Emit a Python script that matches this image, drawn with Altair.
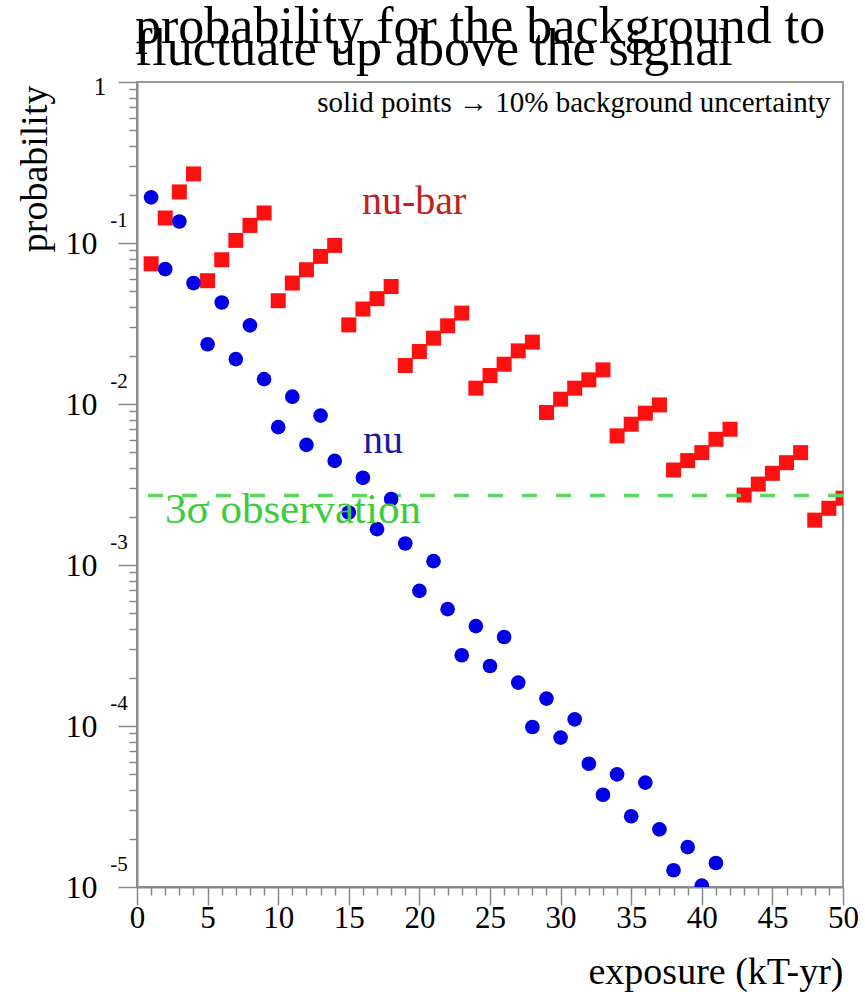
import altair as alt
import pandas as pd

# ---------------- data ----------------
exposure_nu = list(range(1, 42))
prob_nu = [0.192, 0.0689, 0.136, 0.0564, 0.0235, 0.0427, 0.019, 0.0308, 0.01427, 0.00718,
           0.0111, 0.00557, 0.00847, 0.00443, 0.00212, 0.00348, 0.00167, 0.00257, 0.00136, 0.000691,
           0.001056, 0.000532, 0.000275, 0.000417, 0.000236, 0.000357, 0.000186, 0.0000986, 0.000148, 0.0000847,
           0.00011, 0.0000583, 0.0000374, 0.0000501, 0.0000275, 0.0000445, 0.0000228, 0.0000127, 0.0000177, 0.0000102,
           0.0000141]

exposure_nubar = list(range(1, 51))
prob_nubar = [0.0743, 0.143, 0.2076, 0.2686,
              0.0583, 0.0787, 0.1038, 0.1286, 0.1537,
              0.0438, 0.0564, 0.0682, 0.0826, 0.0966,
              0.031, 0.0389, 0.0451, 0.0537,
              0.01734, 0.0212, 0.02564, 0.0306, 0.0367,
              0.01254, 0.01503, 0.01767, 0.02138, 0.02423,
              0.00885, 0.01071, 0.01254, 0.01413, 0.0163,
              0.00634, 0.00749, 0.00877, 0.00987,
              0.00389, 0.00445, 0.00499, 0.00604, 0.00697,
              0.00272, 0.00318, 0.00371, 0.00432, 0.00499,
              0.0019, 0.00225, 0.0026]

three_sigma = [0.0027]

title_lines = ["probability for the background to", "fluctuate up above the signal"]
x_title = "exposure (kT-yr)"
y_title = "probability"
note_text = ["solid points \u2192 10% background uncertainty"]
note_x, note_y = [49.1], [0.65]
label_nubar = ["nu-bar"]
label_nubar_x, label_nubar_y = [15.93], [0.152]
label_nu = ["nu"]
label_nu_x, label_nu_y = [16.0], [0.00496]
label_sigma = ["3\u03c3 observation"]
label_sigma_x, label_sigma_y = [1.98], [0.001823]
decade_values = [1e-1, 1e-2, 1e-3, 1e-4, 1e-5]
decade_exponents = ["-1", "-2", "-3", "-4", "-5"]
top_value, top_label = [1.0], ["1"]
x_tick_values = list(range(0, 51))
y_tick_values = [1.0] + [k * 10.0 ** d for d in range(-1, -6, -1) for k in range(1, 10)]

# ---------------- style ----------------
FONT = "Liberation Serif"
W, H = 706, 805
RED, BLUE, GREEN_LINE, GREEN_TEXT = "#ff1010", "#0000e6", "#5ad85a", "#3ccc3c"

x_scale = alt.Scale(domain=[0, 50], nice=False, zero=False)
y_scale = alt.Scale(type="log", domain=[1e-5, 1], nice=False)

major_y = "abs(log(datum.value)/LN10 - round(log(datum.value)/LN10)) < 0.001"

x_axis = alt.Axis(
    values=x_tick_values, grid=False, title=x_title,
    labelExpr="datum.value % 5 === 0 ? datum.label : ''",
    tickSize={"condition": {"test": "datum.value % 5 === 0", "value": 18}, "value": 8},
    labelFontSize=31, labelFont=FONT, labelColor="black", labelPadding=-2,
    labelOverlap=False, labelFlush=False, labelBound=False,
    titleFont=FONT, titleFontSize=38, titleFontWeight="normal", titleColor="black",
    titleX=W, titleY=96, titleAlign="right", titleBaseline="alphabetic",
)
y_axis = alt.Axis(
    values=y_tick_values, grid=False, title=y_title,
    labelExpr="(" + major_y + ") && datum.value < 0.5 ? '10' : ''",
    tickSize={"condition": {"test": major_y, "value": 19}, "value": 8},
    labelFontSize=32, labelFont=FONT, labelColor="black", labelPadding=21,
    labelOverlap=False, labelFlush=False, labelBound=False, labelBaseline="middle",
    titleFont=FONT, titleFontSize=38, titleFontWeight="normal", titleColor="black",
    titleAngle=270, titleX=-102, titleY=3, titleAlign="right", titleBaseline="middle",
)


def X(field):
    return alt.X(field, scale=x_scale, axis=x_axis)


def Y(field):
    return alt.Y(field, scale=y_scale, axis=y_axis)


df_nubar = pd.DataFrame({"exposure": exposure_nubar, "p": prob_nubar})
df_nu = pd.DataFrame({"exposure": exposure_nu, "p": prob_nu})

red = alt.Chart(df_nubar).mark_square(size=225, color=RED, opacity=1, clip=True).encode(
    x=X("exposure:Q"), y=Y("p:Q"),
)

dash = alt.Chart(pd.DataFrame({"p": three_sigma})).mark_rule(
    color=GREEN_LINE, strokeDash=[15, 19], strokeWidth=3.5
).encode(y=Y("p:Q"))

blue = alt.Chart(df_nu).mark_circle(size=215, color=BLUE, opacity=1, clip=True).encode(
    x=X("exposure:Q"), y=Y("p:Q"),
)


def data_text(xs, ys, texts, color, size, align="left"):
    d = pd.DataFrame({"exposure": xs, "p": ys, "t": texts})
    return alt.Chart(d).mark_text(
        font=FONT, fontSize=size, color=color, align=align, baseline="alphabetic"
    ).encode(x=X("exposure:Q"), y=Y("p:Q"), text="t:N")


def pixel_text(text, px, py, size, align="left", baseline="alphabetic", color="black"):
    d = pd.DataFrame({"t": [text]})
    return alt.Chart(d).mark_text(
        font=FONT, fontSize=size, color=color, align=align, baseline=baseline
    ).encode(x=alt.value(px), y=alt.value(py), text="t:N")


note = data_text(note_x, note_y, note_text, "black", 29, align="right")
t_nubar = data_text(label_nubar_x, label_nubar_y, label_nubar, "#c0201e", 40)
t_nu = data_text(label_nu_x, label_nu_y, label_nu, "#1a1a9a", 40)
t_sigma = data_text(label_sigma_x, label_sigma_y, label_sigma, GREEN_TEXT, 43)

exps = alt.Chart(pd.DataFrame({"p": decade_values, "t": decade_exponents})).mark_text(
    font=FONT, fontSize=21, color="black", align="center", baseline="middle", dy=-22
).encode(x=alt.value(-18), y=Y("p:Q"), text="t:N")

top_one = alt.Chart(pd.DataFrame({"p": top_value, "t": top_label})).mark_text(
    font=FONT, fontSize=25, color="black", align="center", baseline="middle", dy=5
).encode(x=alt.value(-37), y=Y("p:Q"), text="t:N")

title1 = pixel_text(title_lines[0], -2, -39, 52)
title2 = pixel_text(title_lines[1], -2, -17, 52)

chart = alt.layer(
    red, dash, blue, note, t_nubar, t_nu, t_sigma, exps, top_one, title1, title2
).properties(
    width=W, height=H, autosize="none",
    padding={"left": 137, "top": 82, "right": 22, "bottom": 105},
    background="white",
).configure_view(
    stroke="#999999", strokeWidth=2
).configure_axis(
    domainColor="#888888", domainWidth=2, tickColor="#888888", tickWidth=1.5,
)

chart.save("out.html", embed_options={"renderer": "svg", "actions": False})
